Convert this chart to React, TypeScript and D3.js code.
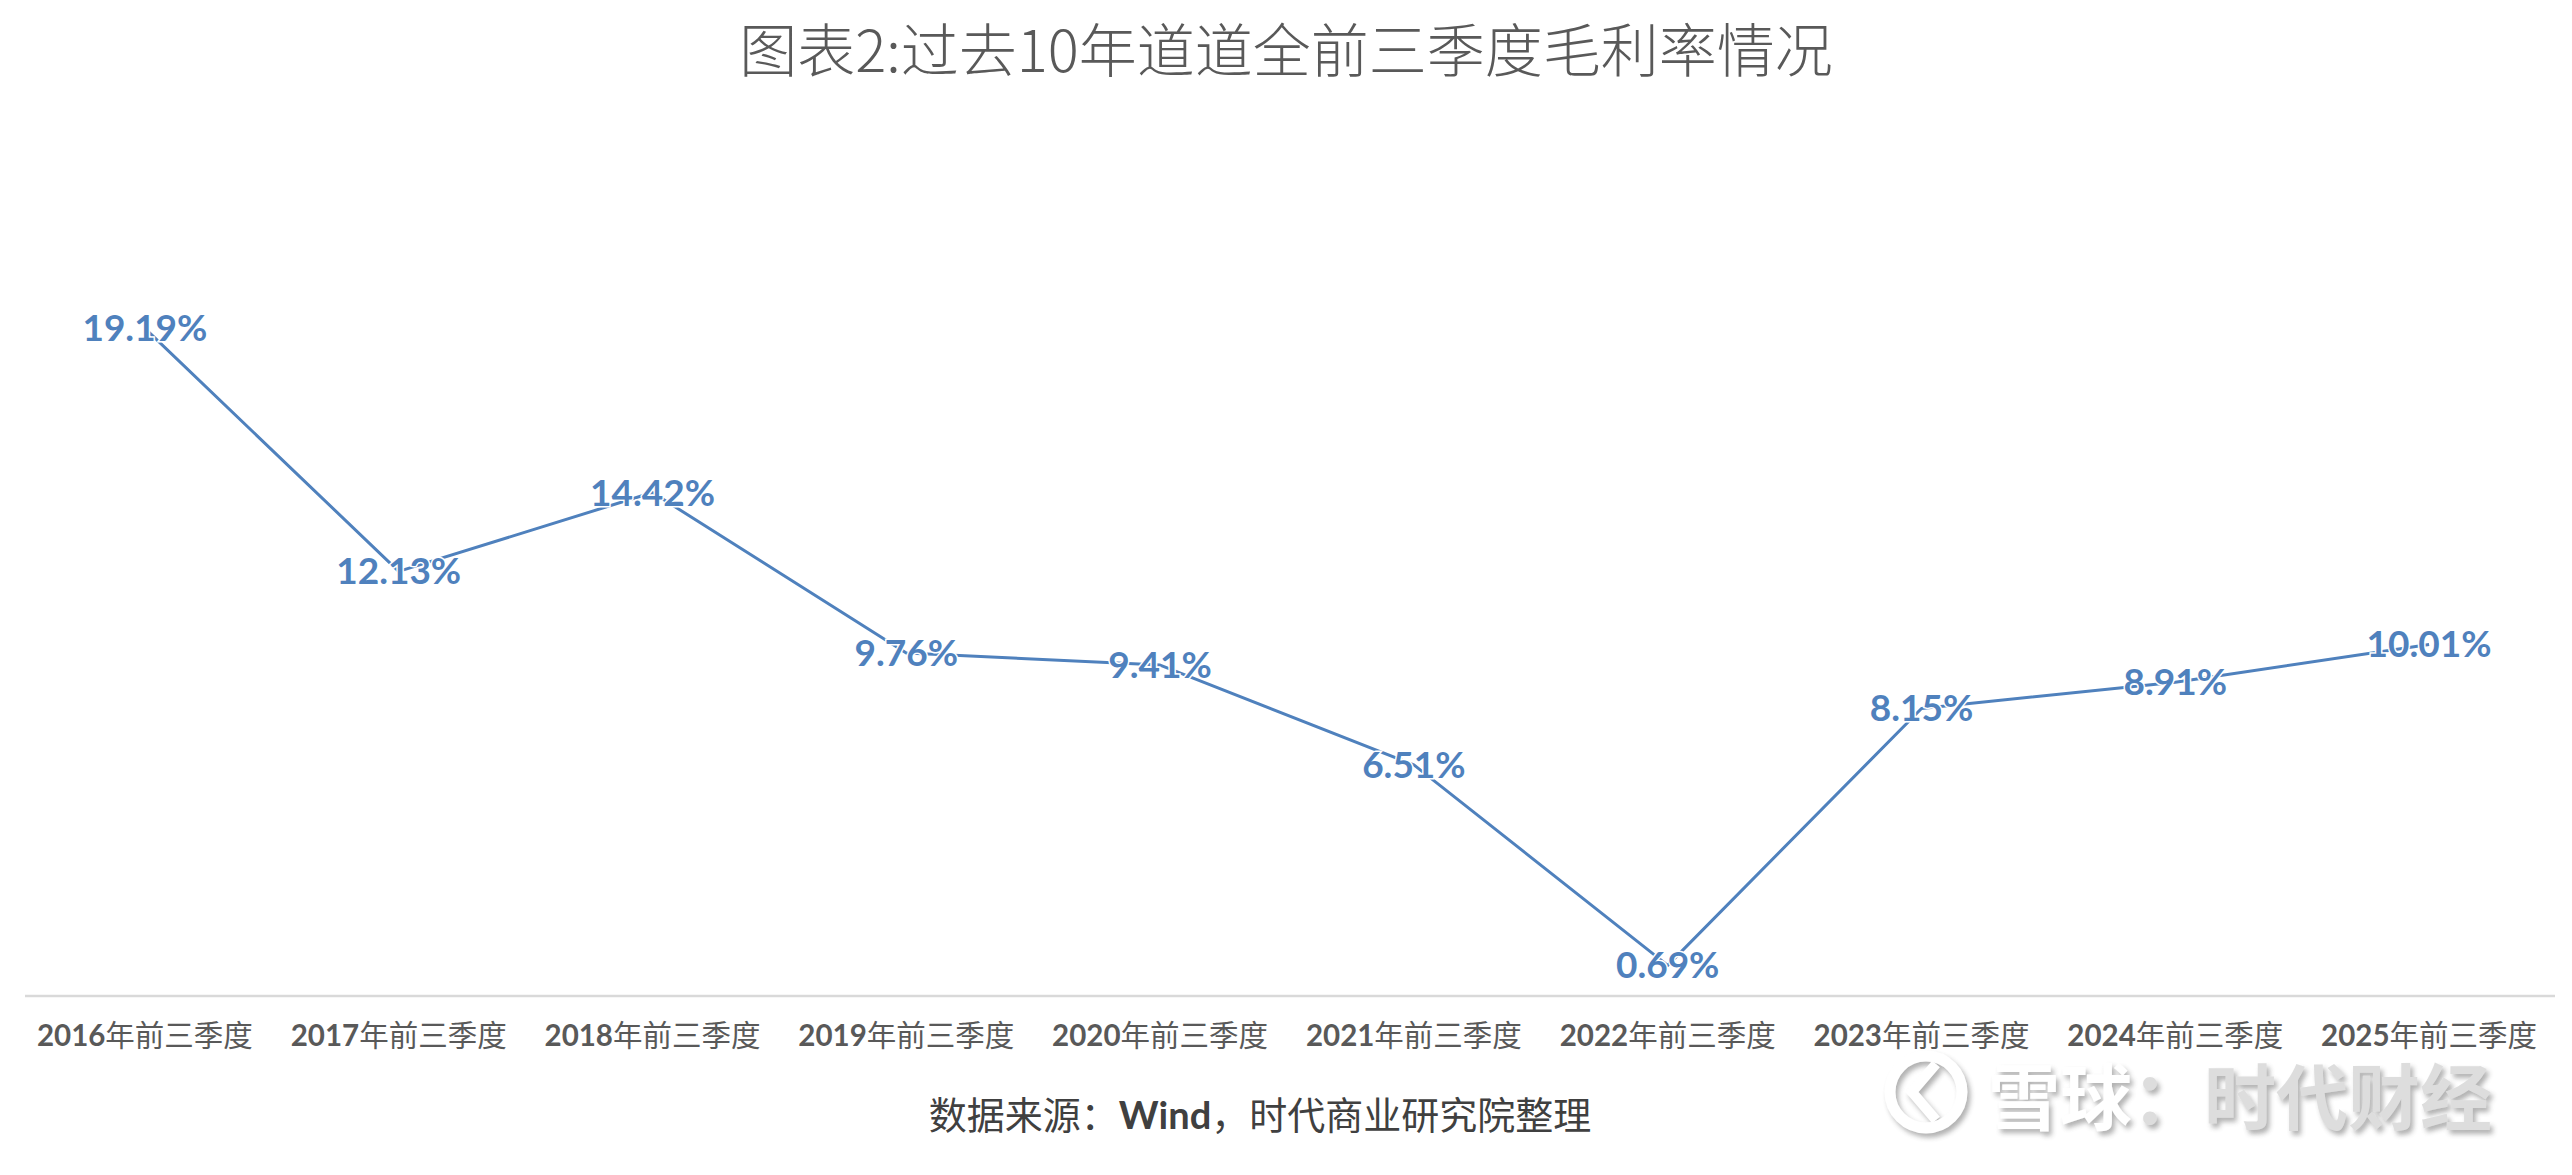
import React from 'react';
import * as d3 from 'd3';

const W = 2572;
const H = 1175;

const titleText = '图表2:过去10年道道全前三季度毛利率情况';
const sourceParts = ['数据来源：', 'Wind', '，时代商业研究院整理'];
const watermarkText = ['雪球', '：时代财经'];

const categories = [
  '2016年前三季度',
  '2017年前三季度',
  '2018年前三季度',
  '2019年前三季度',
  '2020年前三季度',
  '2021年前三季度',
  '2022年前三季度',
  '2023年前三季度',
  '2024年前三季度',
  '2025年前三季度',
];

const grossMargin = [19.19, 12.13, 14.42, 9.76, 9.41, 6.51, 0.69, 8.15, 8.91, 10.01];

const yDomain: [number, number] = [-0.2, 20];

const LINE_COLOR = '#4F81BD';
const LABEL_COLOR = '#4F81BD';
const AXIS_TEXT = '#595959';
const CJK = '"Noto Sans CJK SC", "Noto Sans", sans-serif';
const LATIN = 'Lato, "Open Sans", "Noto Sans", sans-serif';

export default function App() {
  const x = d3.scaleBand<string>().domain(categories).range([18, 2556]);
  const y = d3.scaleLinear().domain(yDomain).range([996, 300.4]);
  const cx = (i: number) => (x(categories[i]) as number) + x.bandwidth() / 2;

  const linePath = d3
    .line<number>()
    .x((_, i) => cx(i))
    .y((d) => y(d))(grossMargin) as string;

  const fmt = (v: number) => v.toFixed(2) + '%';

  return (
    <svg
      width={W}
      height={H}
      viewBox={`0 0 ${W} ${H}`}
      style={{ position: 'absolute', left: 0, top: 0, background: '#ffffff' }}
    >
      <defs>
        <filter id="wmShadow" x="-20%" y="-20%" width="140%" height="140%">
          <feDropShadow dx="3" dy="4" stdDeviation="2.5" floodColor="#8a8a8a" floodOpacity="0.7" />
        </filter>
      </defs>
      <rect x={0} y={0} width={W} height={H} fill="#ffffff" />

      {/* Title */}
      <text
        x={1286}
        y={72}
        textAnchor="middle"
        fontFamily={CJK}
        fontSize={58}
        fontWeight={300}
        fill="#595959"
      >
        {titleText}
      </text>

      {/* X axis line */}
      <line x1={25} x2={2555} y1={y(yDomain[0])} y2={y(yDomain[0])} stroke="#D9D9D9" strokeWidth={2.5} />

      {/* Category labels */}
      {categories.map((c, i) => {
        const m = c.match(/^(\d+)(.*)$/);
        const yr = m ? m[1] : '';
        const rest = m ? m[2] : c;
        return (
          <text key={c} x={cx(i)} y={1046} textAnchor="middle" fontSize={29.5} fill={AXIS_TEXT}>
            <tspan fontFamily={LATIN} fontWeight={700}>{yr}</tspan>
            <tspan fontFamily={CJK} fontWeight={400}>{rest}</tspan>
          </text>
        );
      })}

      {/* Series line */}
      <path d={linePath} fill="none" stroke={LINE_COLOR} strokeWidth={3} strokeLinejoin="round" />

      {/* Data labels */}
      {grossMargin.map((v, i) => (
        <text
          key={i}
          x={cx(i)}
          y={y(v) + 13}
          textAnchor="middle"
          fontFamily={LATIN}
          fontWeight={700}
          fontSize={37}
          fill={LABEL_COLOR}
          stroke="#ffffff"
          strokeWidth={3}
          paintOrder="stroke"
        >
          {fmt(v)}
        </text>
      ))}

      {/* Source */}
      <text x={1260} y={1129} textAnchor="middle" fontSize={38} fill="#404040">
        <tspan fontFamily={CJK} fontWeight={400}>{sourceParts[0]}</tspan>
        <tspan fontFamily={LATIN} fontWeight={700}>{sourceParts[1]}</tspan>
        <tspan fontFamily={CJK} fontWeight={400}>{sourceParts[2]}</tspan>
      </text>

      {/* Watermark */}
      <g filter="url(#wmShadow)" opacity={0.95}>
        <circle cx={1926} cy={1092} r={36} fill="none" stroke="#ffffff" strokeWidth={11} />
        <path d="M1936,1064 L1912,1092 L1936,1120" fill="none" stroke="#ffffff" strokeWidth={10} />
        <text x={1988} y={1124} fontFamily={CJK} fontWeight={700} fontSize={72}>
          <tspan fill="#ffffff">{watermarkText[0]}</tspan>
          <tspan fill="#dcdcdc">{watermarkText[1]}</tspan>
        </text>
      </g>
    </svg>
  );
}
